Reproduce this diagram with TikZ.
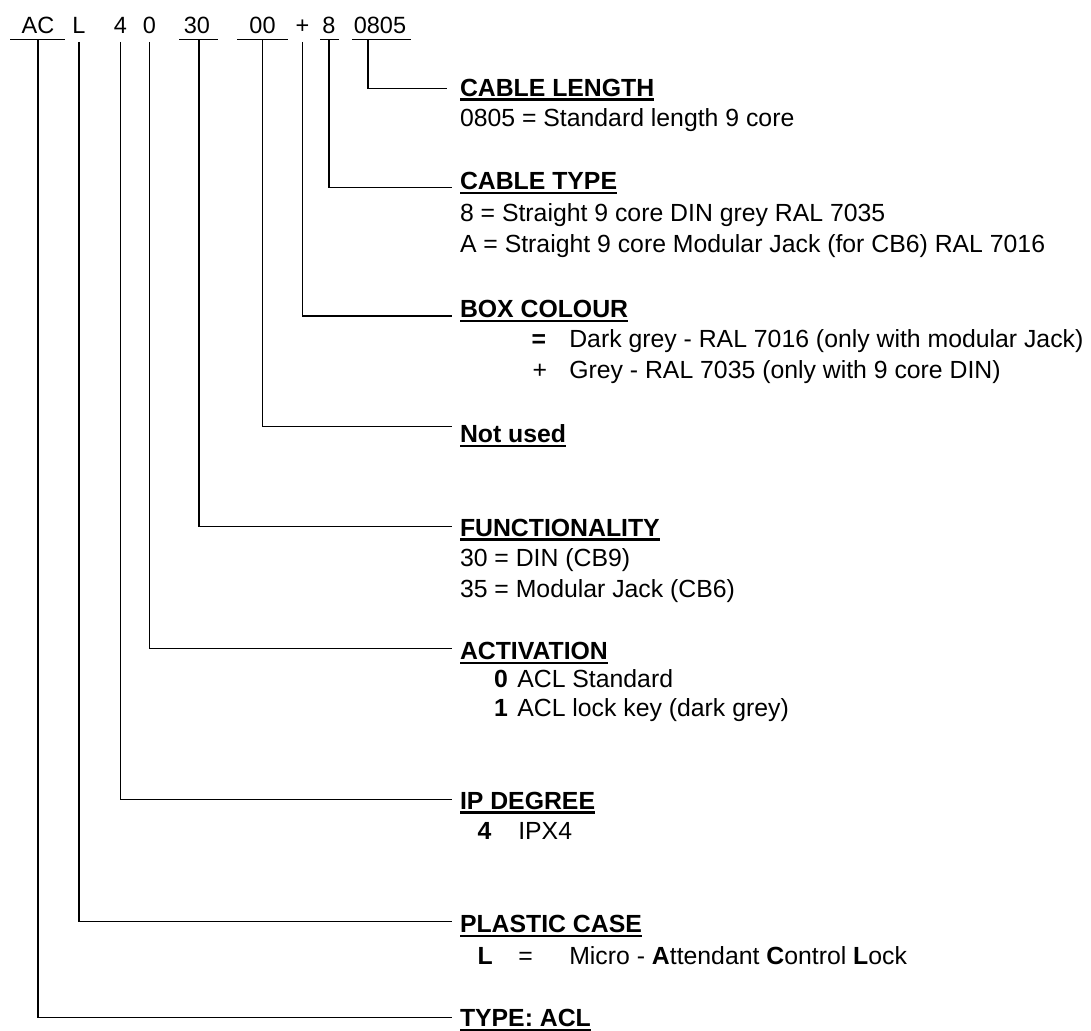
\documentclass[tikz,border=0pt]{standalone}
\usepackage{fontspec}
\setmainfont{Liberation Sans}
\begin{document}
\begin{tikzpicture}[x=1pt,y=-1pt,
  code/.style={anchor=base,inner sep=0pt,outer sep=0pt,font=\fontsize{23.5}{28}\selectfont},
  lbl/.style={anchor=base west,inner sep=0pt,outer sep=0pt,font=\fontsize{24.8}{28}\selectfont},
  ttl/.style={anchor=base west,inner sep=0pt,outer sep=0pt,font=\fontsize{24.8}{28}\selectfont\bfseries},
  blbl/.style={anchor=base west,inner sep=0pt,outer sep=0pt,font=\fontsize{24.8}{28}\selectfont\bfseries},
  conn/.style={line width=1.4pt,black},
  cul/.style={line width=1.4pt,black},
  tul/.style={line width=2.3pt,black}]
\useasboundingbox (0,0) rectangle (1091,1030);
\fill[white] (0,0) rectangle (1091,1030);

% code line
\node[code] (cAC) at (38,33.3) {AC};
\node[code] (cL) at (79,33.3) {L};
\node[code] (c4) at (120.5,33.3) {4};
\node[code] (c0) at (149.5,33.3) {0};
\node[code] (c30) at (197,33.3) {30};
\node[code] (c00) at (262.5,33.3) {00};
\node[code] (cP) at (302.5,33.3) {+};
\node[code] (c8) at (329,33.3) {8};
\node[code] (c0805) at (380,33.3) {0805};

\draw[cul] (10,39.5) -- (65,39.5);
\draw[cul] (179,39.5) -- (218,39.5);
\draw[cul] (237,39.5) -- (288,39.5);
\draw[cul] (320,39.5) -- (339,39.5);
\draw[cul] (352,39.5) -- (411,39.5);

\coordinate (ul) at (0,39.5);
\coordinate (ul2) at (0,42);
\coordinate (v0805) at (368,39.5);

% titles
\node[ttl] (tLen) at (460,96) {CABLE LENGTH};
\node[ttl] (tTyp) at (460,189.3) {CABLE TYPE};
\node[ttl] (tBox) at (460,317.7) {BOX COLOUR};
\node[ttl] (tNot) at (460,442.7) {Not used};
\node[ttl] (tFun) at (460,536) {FUNCTIONALITY};
\node[ttl] (tAct) at (460,659.3) {ACTIVATION};
\node[ttl] (tIP) at (460,809) {IP DEGREE};
\node[ttl] (tPla) at (460,932.7) {PLASTIC CASE};
\node[ttl] (tTY) at (460,1026.7) {TYPE: ACL};

\foreach \t in {tLen,tTyp,tBox,tNot,tFun,tAct,tIP,tPla,tTY}
  \draw[tul] ([yshift=-3.6pt]\t.base west) -- ([yshift=-3.6pt]\t.base east);

% connector ends
\coordinate (eLen) at (447,88.3);
\coordinate (eTyp) at (452,187.3);
\coordinate (eBox) at (452,316);
\coordinate (eNot) at (452,426.7);
\coordinate (eFun) at (452,526.7);
\coordinate (eAct) at (452,648.3);
\coordinate (eIP) at (452,799.3);
\coordinate (ePla) at (452,921.7);
\coordinate (eTY) at (452,1017.3);

\draw[conn] (v0805) |- (eLen);
\draw[conn] (c8 |- ul) |- (eTyp);
\draw[conn] (cP |- ul2) |- (eBox);
\draw[conn] (c00 |- ul) |- (eNot);
\draw[conn] (199,39.5) |- (eFun);
\draw[conn] (c0 |- ul2) |- (eAct);
\draw[conn] (c4 |- ul2) |- (eIP);
\draw[conn] (cL |- ul2) |- (ePla);
\draw[conn] (cAC |- ul) |- (eTY);

% descriptions
\node[lbl] (d1) at (460,126.7) {0805 = Standard length 9 core};
\node[lbl] (d2) at (460,221.7) {8 = Straight 9 core DIN grey RAL 7035};
\node[lbl] (d3) at (460,252.3) {A = Straight 9 core Modular Jack (for CB6) RAL 7016};
\node[blbl] (d4a) at (531.7,347.3) {=};
\node[lbl] (d4) at (569.3,347.3) {Dark grey - RAL 7016 (only with modular Jack)};
\node[lbl] (d5a) at (532.7,378.3) {+};
\node[lbl] (d5) at (569.3,378.3) {Grey - RAL 7035 (only with 9 core DIN)};
\node[lbl] (d6) at (460,566.7) {30 = DIN (CB9)};
\node[lbl] (d7) at (460,597.3) {35 = Modular Jack (CB6)};
\node[blbl] (d8a) at (494,687.3) {0};
\node[lbl] (d8) at (517.3,687.3) {ACL Standard};
\node[blbl] (d9a) at (494,716) {1};
\node[lbl] (d9) at (517.3,716) {ACL lock key (dark grey)};
\node[blbl] (d10a) at (477.7,839.3) {4};
\node[lbl] (d10) at (518.3,839.3) {IPX4};
\node[blbl] (d11a) at (477.7,964.3) {L};
\node[lbl] (d11b) at (518.3,964.3) {=};
\node[lbl] (d11) at (569.3,964.3) {Micro - \textbf{A}ttendant \textbf{C}ontrol \textbf{L}ock};
\end{tikzpicture}
\end{document}
